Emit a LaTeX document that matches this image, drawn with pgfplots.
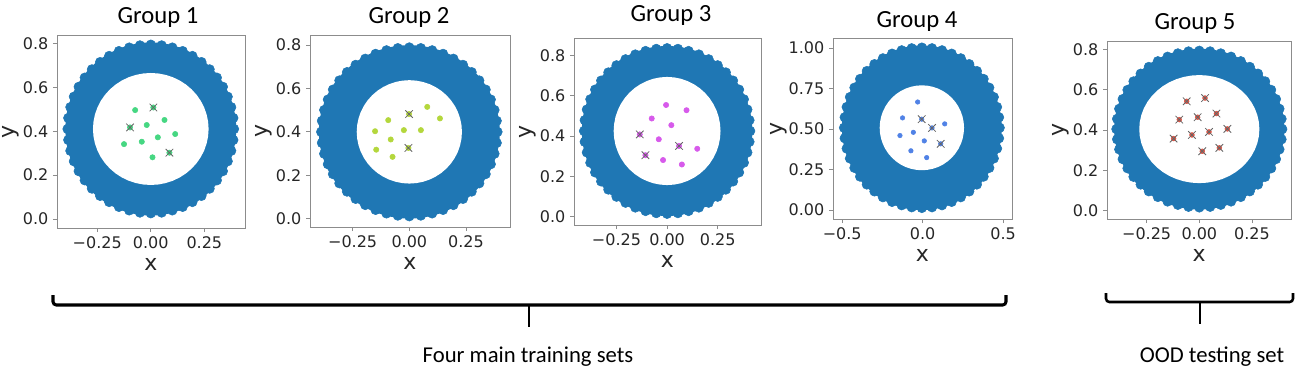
\documentclass[border=0pt]{standalone}
\usepackage{fontspec}
\usepackage{pgfplots}
\usepackage{pgfplotstable}
\pgfplotsset{compat=1.18}
\newfontfamily\dejavu{DejaVu Sans}
\newfontfamily\calibri{Carlito}
\definecolor{ringblue}{HTML}{1F77B4}
\definecolor{gone}{RGB}{70,215,130}
\definecolor{gtwo}{RGB}{180,215,60}
\definecolor{gthree}{RGB}{215,90,235}
\definecolor{gfour}{RGB}{80,130,230}
\definecolor{gfive}{RGB}{225,85,70}

% unit circle, 7.5 degree steps
\pgfplotstableread{
c s
1.0000 0.0000
0.9914 0.1305
0.9659 0.2588
0.9239 0.3827
0.8660 0.5000
0.7934 0.6088
0.7071 0.7071
0.6088 0.7934
0.5000 0.8660
0.3827 0.9239
0.2588 0.9659
0.1305 0.9914
0.0000 1.0000
-0.1305 0.9914
-0.2588 0.9659
-0.3827 0.9239
-0.5000 0.8660
-0.6088 0.7934
-0.7071 0.7071
-0.7934 0.6088
-0.8660 0.5000
-0.9239 0.3827
-0.9659 0.2588
-0.9914 0.1305
-1.0000 0.0000
-0.9914 -0.1305
-0.9659 -0.2588
-0.9239 -0.3827
-0.8660 -0.5000
-0.7934 -0.6088
-0.7071 -0.7071
-0.6088 -0.7934
-0.5000 -0.8660
-0.3827 -0.9239
-0.2588 -0.9659
-0.1305 -0.9914
0.0000 -1.0000
0.1305 -0.9914
0.2588 -0.9659
0.3827 -0.9239
0.5000 -0.8660
0.6088 -0.7934
0.7071 -0.7071
0.7934 -0.6088
0.8660 -0.5000
0.9239 -0.3827
0.9659 -0.2588
0.9914 -0.1305
}\unitcircle

% #1 cx, #2 cy, #3/#4 outer radii, #5/#6 inner radii
\newcommand{\ring}[6]{%
  \addplot[draw=none, fill=ringblue] table[x expr={#1+#3*0.975*\thisrow{c}}, y expr={#2+#4*0.975*\thisrow{s}}] {\unitcircle};
  \addplot[only marks, mark=*, mark size=3.6pt, color=ringblue] table[x expr={#1+#3*0.948*\thisrow{c}}, y expr={#2+#4*0.948*\thisrow{s}}] {\unitcircle};
  \addplot[draw=none, fill=white] table[x expr={#1+#5*\thisrow{c}}, y expr={#2+#6*\thisrow{s}}] {\unitcircle};
}

\pgfplotsset{
  panel/.style={
    scale only axis, anchor=south west,
    axis line style={black!45, line width=0.6pt},
    tick align=outside, major tick length=3pt,
    tick style={black!45, line width=0.6pt},
    xtick pos=left, ytick pos=left,
    ticklabel style={font=\dejavu\fontsize{12}{12}\selectfont, text=black!85},
    xlabel={x}, ylabel={y},
    label style={font=\dejavu\fontsize{16.5}{16.5}\selectfont, text=black!85, inner sep=0pt},
    x label style={at={([yshift=-31.5pt]axis description cs:0.5,0)}, anchor=base},
    y label style={at={([xshift=-32pt]axis description cs:0,0.5)}, anchor=base},
  },
  small/.style={
    xtick={-0.25,0,0.25}, xticklabels={−0.25,0.00,0.25},
    ytick={0,0.2,0.4,0.6,0.8}, yticklabels={0.0,0.2,0.4,0.6,0.8},
  },
  dots/.style={only marks, mark=*, mark size=2pt, color=#1},
  crosses/.style={only marks, mark=x, mark size=4pt, color=black!60, mark options={line width=0.6pt}},
}

\begin{document}
\begin{tikzpicture}
\path[use as bounding box] (0,0) rectangle (975pt,-281.25pt);

% Group 1
\begin{axis}[panel, small, at={(42.75pt,-171pt)}, width=141pt, height=144.75pt,
  xmin=-0.438, xmax=0.44, ymin=-0.041, ymax=0.838]
\ring{0}{0.41}{0.41}{0.405}{0.27}{0.255}
\addplot[dots=gone] coordinates {(-0.073,0.496) (0.012,0.508) (0.064,0.451) (-0.019,0.428) (-0.097,0.417) (0.114,0.387) (0.033,0.372) (-0.042,0.352) (-0.125,0.341) (0.087,0.302) (0.008,0.281)};
\addplot[crosses] coordinates {(0.012,0.508) (-0.097,0.417) (0.087,0.302)};
\end{axis}

% Group 2
\begin{axis}[panel, small, at={(232.5pt,-170.25pt)}, width=150pt, height=144pt,
  xmin=-0.438, xmax=0.444, ymin=-0.038, ymax=0.846]
\ring{0}{0.40}{0.41}{0.41}{0.232}{0.238}
\addplot[dots=gtwo] coordinates {(0.079,0.515) (0.135,0.462) (-0.001,0.482) (-0.093,0.454) (-0.151,0.403) (-0.024,0.408) (0.051,0.408) (-0.082,0.365) (-0.146,0.318) (-0.004,0.326) (-0.074,0.285)};
\addplot[crosses] coordinates {(-0.001,0.482) (-0.004,0.326)};
\end{axis}

% Group 3
\begin{axis}[panel, small, at={(430.5pt,-168.75pt)}, width=140.25pt, height=140.25pt,
  xmin=-0.46, xmax=0.464, ymin=-0.041, ymax=0.886]
\ring{0}{0.425}{0.433}{0.433}{0.264}{0.268}
\addplot[dots=gthree] coordinates {(-0.005,0.554) (0.096,0.528) (-0.076,0.487) (0.021,0.454) (-0.135,0.408) (-0.041,0.384) (0.059,0.351) (0.149,0.337) (-0.107,0.305) (-0.02,0.281) (0.073,0.259)};
\addplot[crosses] coordinates {(-0.135,0.408) (0.059,0.351) (-0.107,0.305)};
\end{axis}

% Group 4
\begin{axis}[panel, at={(624.75pt,-164.25pt)}, width=134.25pt, height=135.75pt,
  xmin=-0.557, xmax=0.555, ymin=-0.055, ymax=1.062,
  xtick={-0.5,0,0.5}, xticklabels={−0.5,0.0,0.5},
  ytick={0,0.25,0.5,0.75,1}, yticklabels={0.00,0.25,0.50,0.75,1.00},
  y label style={at={([xshift=-38pt]axis description cs:0,0.5)}}]
\ring{-0.005}{0.508}{0.51}{0.522}{0.262}{0.262}
\addplot[dots=gfour, mark size=1.7pt] coordinates {(-0.031,0.667) (-0.125,0.569) (-0.006,0.561) (0.137,0.532) (0.058,0.507) (-0.058,0.48) (-0.141,0.46) (0.01,0.427) (0.112,0.409) (-0.073,0.366) (0.025,0.324)};
\addplot[crosses] coordinates {(-0.006,0.561) (0.058,0.507) (0.112,0.409)};
\end{axis}

% Group 5
\begin{axis}[panel, small, at={(830.25pt,-164.25pt)}, width=138pt, height=133.5pt,
  xmin=-0.438, xmax=0.435, ymin=-0.041, ymax=0.842]
\ring{0}{0.405}{0.415}{0.41}{0.285}{0.268}
\addplot[dots=gfive, mark size=1.8pt] coordinates {(-0.06,0.543) (0.027,0.559) (0.081,0.482) (-0.095,0.452) (-0.008,0.464) (0.133,0.406) (0.046,0.391) (-0.035,0.376) (-0.122,0.358) (0.095,0.312) (0.014,0.295)};
\addplot[crosses] coordinates {(-0.06,0.543) (0.027,0.559) (0.081,0.482) (-0.095,0.452) (-0.008,0.464) (0.133,0.406) (0.046,0.391) (-0.035,0.376) (-0.122,0.358) (0.095,0.312) (0.014,0.295)};
\end{axis}

\begin{scope}[x=0.75pt, y=-0.75pt]
\begin{scope}[font=\calibri\fontsize{18.5}{18.5}\selectfont]
\node[anchor=base] at (158,23) {Group 1};
\node[anchor=base] at (409,23) {Group 2};
\node[anchor=base] at (671,21) {Group 3};
\node[anchor=base] at (917,27) {Group 4};
\node[anchor=base] at (1195,29) {Group 5};
\end{scope}
\draw[line width=2.3pt, rounded corners=2.5pt] (53,295) -- (53,305) -- (1006,305) -- (1006,295);
\draw[line width=1.8pt] (529,305) -- (529,327);
\draw[line width=1.9pt, rounded corners=2.5pt] (1106,293) -- (1106,302) -- (1293,302) -- (1293,293);
\draw[line width=1.8pt] (1200,302) -- (1200,324);
\begin{scope}[font=\calibri\fontsize{17}{17}\selectfont]
\node[anchor=base] at (528,362) {Four main training sets};
\node[anchor=base] at (1212,362) {OOD testing set};
\end{scope}
\end{scope}
\end{tikzpicture}
\end{document}
